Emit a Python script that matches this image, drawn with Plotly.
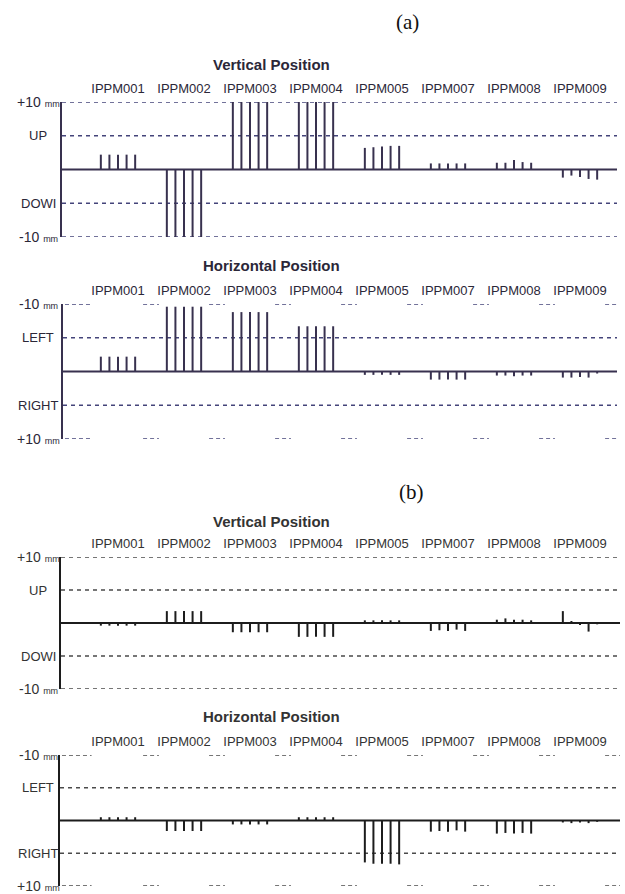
import plotly.graph_objects as go

# ---------------- data ----------------
monitors = ["IPPM001", "IPPM002", "IPPM003", "IPPM004", "IPPM005", "IPPM007", "IPPM008", "IPPM009"]

# (a) before correction, mm, 5 pulses per monitor
a_vertical = [
    [2.2, 2.2, 2.2, 2.2, 2.2],
    [-10, -10, -10, -10, -10],
    [10, 10, 10, 10, 10],
    [10, 10, 10, 10, 10],
    [3.2, 3.3, 3.4, 3.5, 3.5],
    [0.9, 0.9, 0.9, 0.9, 0.9],
    [1.0, 1.0, 1.4, 1.1, 1.0],
    [-1.2, -0.9, -1.1, -1.4, -1.5],
]
# horizontal: negative = LEFT, positive = RIGHT
a_horizontal = [
    [-2.2, -2.2, -2.2, -2.2, -2.2],
    [-9.6, -9.6, -9.6, -9.6, -9.6],
    [-8.8, -8.8, -8.8, -8.8, -8.8],
    [-6.7, -6.7, -6.7, -6.7, -6.7],
    [0.5, 0.5, 0.5, 0.5, 0.5],
    [1.2, 1.2, 1.2, 1.2, 1.2],
    [0.6, 0.6, 0.7, 0.6, 0.6],
    [0.9, 0.9, 0.8, 0.9, 0.3],
]
# (b) after correction
b_vertical = [
    [-0.4, -0.4, -0.4, -0.4, -0.4],
    [1.8, 1.8, 1.8, 1.8, 1.8],
    [-1.4, -1.4, -1.4, -1.4, -1.4],
    [-2.1, -2.1, -2.1, -2.1, -2.1],
    [0.4, 0.4, 0.4, 0.4, 0.4],
    [-1.2, -1.1, -1.2, -1.0, -1.2],
    [0.5, 0.7, 0.5, 0.5, 0.4],
    [1.8, 0.3, -0.3, -1.3, -0.2],
]
b_horizontal = [
    [-0.5, -0.5, -0.5, -0.5, -0.5],
    [1.6, 1.6, 1.6, 1.6, 1.6],
    [0.6, 0.6, 0.6, 0.6, 0.6],
    [-0.5, -0.5, -0.5, -0.5, -0.5],
    [6.4, 6.6, 6.6, 6.6, 6.7],
    [1.7, 1.6, 1.7, 1.5, 1.7],
    [2.0, 1.9, 2.0, 1.9, 2.0],
    [0.3, 0.4, 0.3, 0.4, 0.2],
]

vertical_ticks = ["+10", "UP", "DOWI", "-10"]
horizontal_ticks = ["-10", "LEFT", "RIGHT", "+10"]
panel_titles = ["Vertical Position", "Horizontal Position", "Vertical Position", "Horizontal Position"]
section_labels = ["(a)", "(b)"]

# ---------------- layout geometry ----------------
W, H = 625, 894
PULSE_STEP = 0.13

def py(px):
    return 1 - px / H

panels = [
    dict(data=a_vertical, top=102, bot=237, left=62, right=617, rev=False, ticks=vertical_ticks,
         ink="#38314f", dash="#44447a", text="#2b2738", title_y=65),
    dict(data=a_horizontal, top=304, bot=439, left=63, right=617, rev=True, ticks=horizontal_ticks,
         ink="#38314f", dash="#44447a", text="#2b2738", title_y=265),
    dict(data=b_vertical, top=557, bot=689, left=61, right=620, rev=False, ticks=vertical_ticks,
         ink="#1c1c1c", dash="#4a4a4a", text="#333333", title_y=521),
    dict(data=b_horizontal, top=755, bot=886, left=60, right=620, rev=True, ticks=horizontal_ticks,
         ink="#1c1c1c", dash="#4a4a4a", text="#333333", title_y=716),
]

GROUP0_PX = 118.0
GROUP_PX = 66.0

fig = go.Figure()
shapes = []
annotations = []
layout = {}

for k, p in enumerate(panels):
    n = "" if k == 0 else str(k + 1)
    xa, ya = "x" + n, "y" + n
    xr0 = (p["left"] - GROUP0_PX) / GROUP_PX + 1
    xr1 = (p["right"] - GROUP0_PX) / GROUP_PX + 1

    # pulses
    xs, ys = [], []
    for gi, vals in enumerate(p["data"]):
        for j, v in enumerate(vals):
            xv = gi + 1 + (j - 2) * PULSE_STEP
            xs += [xv, xv, None]
            ys += [0, v, None]
    fig.add_trace(go.Scatter(x=xs, y=ys, mode="lines", xaxis=xa, yaxis=ya,
                             line=dict(color=p["ink"], width=2), hoverinfo="skip", showlegend=False))

    layout["xaxis" + n] = dict(
        domain=[p["left"] / W, p["right"] / W], range=[xr0, xr1], anchor=ya, side="top",
        tickvals=list(range(1, len(monitors) + 1)), ticktext=monitors,
        tickfont=dict(family="Liberation Sans, Arial", size=13, color=p["text"]),
        ticks="outside", ticklen=3, tickcolor="rgba(0,0,0,0)",
        showgrid=False, zeroline=False, showline=False, fixedrange=True,
    )
    layout["yaxis" + n] = dict(
        domain=[py(p["bot"]), py(p["top"])],
        range=[10, -10] if p["rev"] else [-10, 10], anchor=xa,
        showticklabels=False, ticks="", showgrid=False, zeroline=False,
        showline=True, linecolor=p["ink"], linewidth=2.2, fixedrange=True,
    )

    # zero baseline
    shapes.append(dict(type="line", xref=xa + " domain", yref=ya, x0=0, x1=1, y0=0, y1=0,
                       line=dict(color=p["ink"], width=2.2), layer="above"))
    # inner dashed levels (UP/DOWN or LEFT/RIGHT)
    for lvl in (5, -5):
        shapes.append(dict(type="line", xref=xa + " domain", yref=ya, x0=0, x1=1, y0=lvl, y1=lvl,
                           line=dict(color=p["dash"], width=1.6, dash="4px,4px"), layer="below"))
    # outer +/-10 levels
    for lvl in (10, -10):
        if not p["rev"]:
            shapes.append(dict(type="line", xref=xa + " domain", yref=ya, x0=0, x1=1, y0=lvl, y1=lvl,
                               line=dict(color=p["dash"], width=1.6, dash="4px,4px"), layer="below"))
        else:
            # only short dashed fragments between monitor groups
            segs = [(xr0 + 0.03, 0.6)] + [(g + 1.5 - 0.12, min(g + 1.5 + 0.12, xr1)) for g in range(len(monitors))]
            for s0, s1 in segs:
                shapes.append(dict(type="line", xref=xa, yref=ya, x0=s0, x1=s1, y0=lvl, y1=lvl,
                                   line=dict(color=p["dash"], width=1.6, dash="4px,3px"), layer="below"))

    # y labels
    tick_levels = [10, 5, -5, -10] if not p["rev"] else [-10, -5, 5, 10]
    for lvl, txt in zip(tick_levels, p["ticks"]):
        t = txt + " <span style='font-size:9px'>mm</span>" if abs(lvl) == 10 else txt
        annotations.append(dict(xref="paper", yref=ya, x=38 / W, y=lvl, text=t, showarrow=False,
                                xanchor="center", yanchor="middle",
                                font=dict(family="Liberation Sans, Arial", size=14 if abs(lvl) == 10 else 13,
                                          color=p["text"])))
    # panel title
    annotations.append(dict(xref="paper", yref="paper", x=271 / W, y=py(p["title_y"]),
                            text="<b>" + panel_titles[k] + "</b>", showarrow=False,
                            xanchor="center", yanchor="middle",
                            font=dict(family="Liberation Sans, Arial", size=15, color=p["text"])))

# section labels
for lab, (xp, yp) in zip(section_labels, [(407, 22), (411, 492)]):
    annotations.append(dict(xref="paper", yref="paper", x=xp / W, y=py(yp), text=lab, showarrow=False,
                            xanchor="center", yanchor="middle",
                            font=dict(family="Liberation Serif, Times New Roman", size=21, color="#111111")))

fig.update_layout(
    width=W, height=H, margin=dict(l=0, r=0, t=0, b=0),
    paper_bgcolor="white", plot_bgcolor="rgba(0,0,0,0)",
    shapes=shapes, annotations=annotations, showlegend=False,
    **layout,
)

fig.write_html("out.html", config={"displayModeBar": False},
               post_script="document.body.style.margin='0';document.body.style.overflow='hidden';")
